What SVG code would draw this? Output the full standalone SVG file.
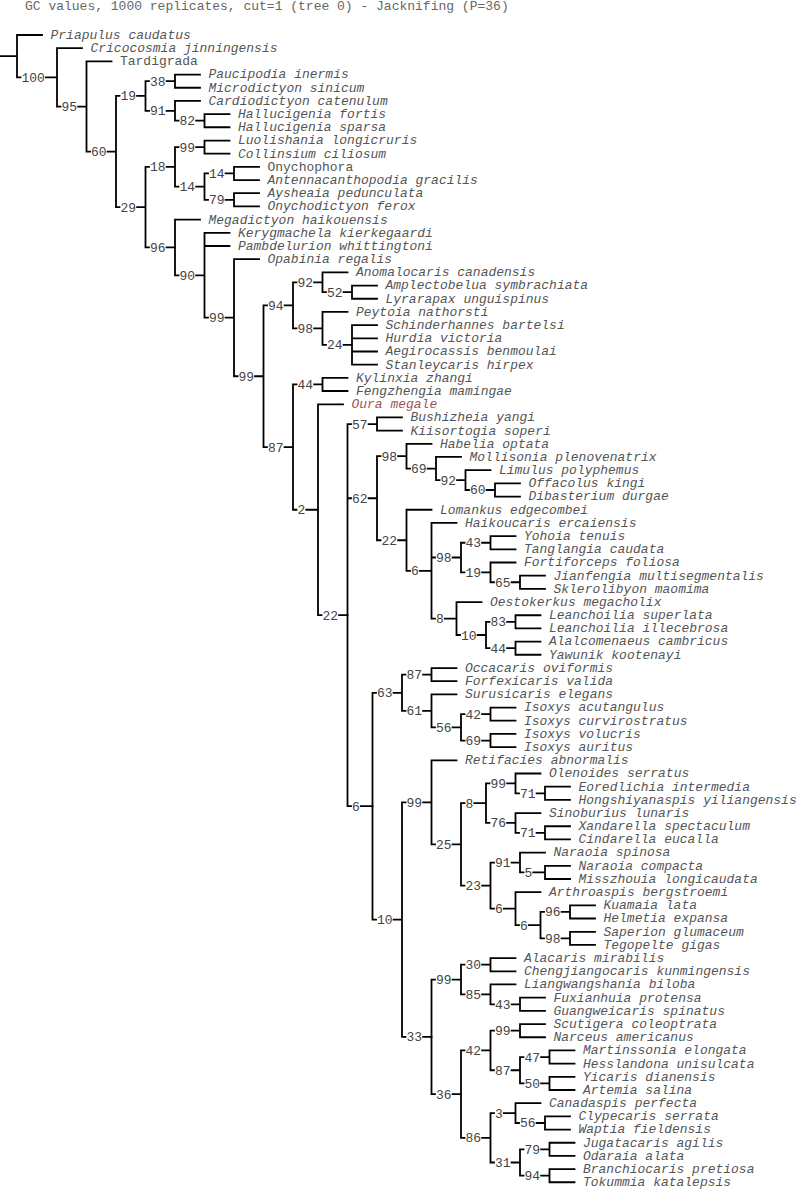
<svg xmlns="http://www.w3.org/2000/svg" width="800" height="1190" viewBox="0 0 800 1190">
<style>
.ln{stroke:#000;stroke-width:1.8;fill:none;stroke-linecap:square}
text{font-family:"Liberation Mono","DejaVu Sans Mono",monospace;font-size:13px;fill:#555}
.i{font-style:italic}
.r{fill:#a0525a}
.b{fill:#444}
.ttl{fill:#666}
</style>
<rect width="800" height="1190" fill="#fff"/>
<text class="ttl" x="25" y="9.5">GC values, 1000 replicates, cut=1 (tree 0) - Jacknifing (P=36)</text>
<g id="tree" transform="matrix(1 0 0 0.99754 0 0.0861)">
<g id="connectors" class="ln">
<path d="M0 56.2H17M17 35V77.4M17 35h25M17 77.4h3.5m25.4 0H57M57 48.2V106.7M57 48.2h25M57 106.7h3.5m17.6 0H86.5M86.5 61.4V151.9M86.5 61.4h25M86.5 151.9h3.5m17.6 0H116M116 96.1V207.6M116 96.1h3.5m17.6 0H145.5M116 207.6h3.5m17.6 0H145.5M145.5 81.3V111M145.5 81.3h3.5m17.6 0H175M145.5 111h3.5m17.6 0H175M175 74.7V87.9M175 74.7h25M175 87.9h25M175 101.1V120.9M175 101.1h25M175 120.9h3.5m17.6 0H204.5M204.5 114.3V127.5M204.5 114.3h25M204.5 127.5h25M145.5 167.2V248M145.5 167.2h3.5m17.6 0H175M145.5 248h3.5m17.6 0H175M175 147.4V187M175 147.4h3.5m17.6 0H204.5M175 187h3.5m17.6 0H204.5M204.5 140.8V154M204.5 140.8h25M204.5 154h25M204.5 173.8V200.3M204.5 173.8h3.5m17.6 0H234M204.5 200.3h3.5m17.6 0H234M234 167.2V180.4M234 167.2h25M234 180.4h25M234 193.6V206.9M234 193.6h25M234 206.9h25M175 220.1V275.9M175 220.1h25M175 275.9h3.5m17.6 0H204.5M204.5 233.3V318.4M204.5 233.3h25M204.5 246.5h25M204.5 318.4h3.5m17.6 0H234M234 259.7V377.1M234 259.7h25M234 377.1h3.5m17.6 0H263.5M263.5 306V448.1M263.5 306h3.5m17.6 0H293M263.5 448.1h3.5m17.6 0H293M293 282.9V329.2M293 282.9h3.5m17.6 0H322.5M293 329.2h3.5m17.6 0H322.5M322.5 273V292.8M322.5 273h25M322.5 292.8h3.5m17.6 0H352M352 286.2V299.4M352 286.2h25M352 299.4h25M322.5 312.6V345.7M322.5 312.6h25M322.5 345.7h3.5m17.6 0H352M352 325.8V365.5M352 325.8h25M352 339.1h25M352 352.3h25M352 365.5h25M293 385.3V510.9M293 385.3h3.5m17.6 0H322.5M293 510.9h3.5m9.8 0H318M322.5 378.7V391.9M322.5 378.7h25M322.5 391.9h25M318 405.2V616.5M318 405.2h25M318 616.5h3.5m17.6 0H347.5"/>
<path d="M347.5 425V808.1M347.5 425h3.5m17.6 0H377M347.5 499.4h3.5m17.6 0H377M347.5 808.1h3.5m9.8 0H372.5M377 418.4V431.6M377 418.4h25M377 431.6h25M377 457.2V541.5M377 457.2h3.5m17.6 0H406.5M377 541.5h3.5m17.6 0H406.5M406.5 444.8V469.6M406.5 444.8h25M406.5 469.6h3.5m17.6 0H436M436 458V481.2M436 458h25M436 481.2h3.5m17.6 0H465.5M465.5 471.3V491.1M465.5 471.3h25M465.5 491.1h3.5m17.6 0H495M495 484.5V497.7M495 484.5h25M495 497.7h25M406.5 510.9V572.1M406.5 510.9h25M406.5 572.1h3.5m9.8 0H431.5M431.5 524.1V620M431.5 524.1h25M431.5 558.8h3.5m17.6 0H461M431.5 620h3.5m9.8 0H456.5M461 544V573.7M461 544h3.5m17.6 0H490.5M461 573.7h3.5m17.6 0H490.5M490.5 537.4V550.6M490.5 537.4h25M490.5 550.6h25M490.5 563.8V583.6M490.5 563.8h25M490.5 583.6h3.5m17.6 0H520M520 577V590.2M520 577h25M520 590.2h25M456.5 603.5V636.5M456.5 603.5h25M456.5 636.5h3.5m17.6 0H486M486 623.3V649.7M486 623.3h3.5m17.6 0H515.5M486 649.7h3.5m17.6 0H515.5M515.5 616.7V629.9M515.5 616.7h25M515.5 629.9h25M515.5 643.1V656.3M515.5 643.1h25M515.5 656.3h25"/>
<path d="M372.5 694.4V921.8M372.5 694.4h3.5m17.6 0H402M372.5 921.8h3.5m17.6 0H402M402 676.2V712.5M402 676.2h3.5m17.6 0H431.5M402 712.5h3.5m17.6 0H431.5M431.5 669.6V682.8M431.5 669.6h25M431.5 682.8h25M431.5 696V729.1M431.5 696h25M431.5 729.1h3.5m17.6 0H461M461 715.8V742.3M461 715.8h3.5m17.6 0H490.5M461 742.3h3.5m17.6 0H490.5M490.5 709.2V722.4M490.5 709.2h25M490.5 722.4h25M490.5 735.7V748.9M490.5 735.7h25M490.5 748.9h25M402 804.3V1039.3M402 804.3h3.5m17.6 0H431.5M402 1039.3h3.5m17.6 0H431.5M431.5 762.1V846.4M431.5 762.1h25M431.5 846.4h3.5m17.6 0H461M461 805.1V887.7M461 805.1h3.5m9.8 0H486M461 887.7h3.5m17.6 0H490.5M486 785.2V824.9M486 785.2h3.5m17.6 0H515.5M486 824.9h3.5m17.6 0H515.5M515.5 775.3V795.2M515.5 775.3h25M515.5 795.2h3.5m17.6 0H545M545 788.5V801.8M545 788.5h25M545 801.8h25M515.5 815V834.8M515.5 815h25M515.5 834.8h3.5m17.6 0H545M545 828.2V841.4M545 828.2h25M545 841.4h25M490.5 864.6V910.8M490.5 864.6h3.5m17.6 0H520M490.5 910.8h3.5m9.8 0H515.5M520 854.6V874.5M520 854.6h25M520 874.5h3.5m9.8 0H545M545 867.9V881.1M545 867.9h25M545 881.1h25M515.5 894.3V927.4M515.5 894.3h25M515.5 927.4h3.5m9.8 0H540.5M540.5 914.1V940.6M540.5 914.1h3.5m17.6 0H570M540.5 940.6h3.5m17.6 0H570M570 907.5V920.7M570 907.5h25M570 920.7h25M570 934V947.2M570 934h25M570 947.2h25"/>
<path d="M431.5 981.9V1096.7M431.5 981.9h3.5m17.6 0H461M431.5 1096.7h3.5m17.6 0H461M461 967V996.8M461 967h3.5m17.6 0H490.5M461 996.8h3.5m17.6 0H490.5M490.5 960.4V973.6M490.5 960.4h25M490.5 973.6h25M490.5 986.8V1006.7M490.5 986.8h25M490.5 1006.7h3.5m17.6 0H520M520 1000.1V1013.3M520 1000.1h25M520 1013.3h25M461 1052.9V1140.5M461 1052.9h3.5m17.6 0H490.5M461 1140.5h3.5m17.6 0H490.5M490.5 1033.1V1072.8M490.5 1033.1h3.5m17.6 0H520M490.5 1072.8h3.5m17.6 0H520M520 1026.5V1039.7M520 1026.5h25M520 1039.7h25M520 1059.6V1086M520 1059.6h3.5m17.6 0H549.5M520 1086h3.5m17.6 0H549.5M549.5 1052.9V1066.2M549.5 1052.9h25M549.5 1066.2h25M549.5 1079.4V1092.6M549.5 1079.4h25M549.5 1092.6h25M490.5 1115.7V1165.3M490.5 1115.7h3.5m9.8 0H515.5M490.5 1165.3h3.5m17.6 0H520M515.5 1105.8V1125.7M515.5 1105.8h25M515.5 1125.7h3.5m17.6 0H545M545 1119V1132.3M545 1119h25M545 1132.3h25M520 1152.1V1178.5M520 1152.1h3.5m17.6 0H549.5M520 1178.5h3.5m17.6 0H549.5M549.5 1145.5V1158.7M549.5 1145.5h25M549.5 1158.7h25M549.5 1171.9V1185.1M549.5 1171.9h25M549.5 1185.1h25"/>
</g>
<g id="support-values">
<g id="n100"><text class="b" x="21.5" y="81.9">100</text></g>
<g id="n95"><text class="b" x="61.5" y="111.2">95</text></g>
<g id="n60"><text class="b" x="91" y="156.4">60</text></g>
<g id="n19"><text class="b" x="120.5" y="100.6">19</text></g>
<g id="n38"><text class="b" x="150" y="85.8">38</text></g>
<g id="n91"><text class="b" x="150" y="115.5">91</text></g>
<g id="n82"><text class="b" x="179.5" y="125.4">82</text></g>
<g id="n29"><text class="b" x="120.5" y="212.1">29</text></g>
<g id="n18"><text class="b" x="150" y="171.7">18</text></g>
<g id="n99a"><text class="b" x="179.5" y="151.9">99</text></g>
<g id="n14a"><text class="b" x="179.5" y="191.5">14</text></g>
<g id="n14b"><text class="b" x="209" y="178.3">14</text></g>
<g id="n79a"><text class="b" x="209" y="204.8">79</text></g>
<g id="n96a"><text class="b" x="150" y="252.5">96</text></g>
<g id="n90"><text class="b" x="179.5" y="280.4">90</text></g>
<g id="n99b"><text class="b" x="209" y="322.9">99</text></g>
<g id="n99c"><text class="b" x="238.5" y="381.6">99</text></g>
<g id="n94a"><text class="b" x="268" y="310.5">94</text></g>
<g id="n92a"><text class="b" x="297.5" y="287.4">92</text></g>
<g id="n52"><text class="b" x="327" y="297.3">52</text></g>
<g id="n98a"><text class="b" x="297.5" y="333.7">98</text></g>
<g id="n24"><text class="b" x="327" y="350.2">24</text></g>
<g id="n87a"><text class="b" x="268" y="452.6">87</text></g>
<g id="n44a"><text class="b" x="297.5" y="389.8">44</text></g>
<g id="n2"><text class="b" x="297.5" y="515.4">2</text></g>
<g id="n22a"><text class="b" x="322.5" y="621">22</text></g>
<g id="n57"><text class="b" x="352" y="429.5">57</text></g>
<g id="n62"><text class="b" x="352" y="503.9">62</text></g>
<g id="n6a"><text class="b" x="352" y="812.6">6</text></g>
<g id="n98b"><text class="b" x="381.5" y="461.7">98</text></g>
<g id="n69a"><text class="b" x="411" y="474.1">69</text></g>
<g id="n92b"><text class="b" x="440.5" y="485.7">92</text></g>
<g id="n60b"><text class="b" x="470" y="495.6">60</text></g>
<g id="n22b"><text class="b" x="381.5" y="546">22</text></g>
<g id="n6b"><text class="b" x="411" y="576.6">6</text></g>
<g id="n98c"><text class="b" x="436" y="563.3">98</text></g>
<g id="n43a"><text class="b" x="465.5" y="548.5">43</text></g>
<g id="n19b"><text class="b" x="465.5" y="578.2">19</text></g>
<g id="n65"><text class="b" x="495" y="588.1">65</text></g>
<g id="n8a"><text class="b" x="436" y="624.5">8</text></g>
<g id="n10a"><text class="b" x="461" y="641">10</text></g>
<g id="n83"><text class="b" x="490.5" y="627.8">83</text></g>
<g id="n44b"><text class="b" x="490.5" y="654.2">44</text></g>
<g id="n63"><text class="b" x="377" y="698.9">63</text></g>
<g id="n87b"><text class="b" x="406.5" y="680.7">87</text></g>
<g id="n61"><text class="b" x="406.5" y="717">61</text></g>
<g id="n56a"><text class="b" x="436" y="733.6">56</text></g>
<g id="n42a"><text class="b" x="465.5" y="720.3">42</text></g>
<g id="n69b"><text class="b" x="465.5" y="746.8">69</text></g>
<g id="n10b"><text class="b" x="377" y="926.3">10</text></g>
<g id="n99d"><text class="b" x="406.5" y="808.8">99</text></g>
<g id="n25"><text class="b" x="436" y="850.9">25</text></g>
<g id="n8b"><text class="b" x="465.5" y="809.6">8</text></g>
<g id="n99e"><text class="b" x="490.5" y="789.7">99</text></g>
<g id="n71a"><text class="b" x="520" y="799.7">71</text></g>
<g id="n76"><text class="b" x="490.5" y="829.4">76</text></g>
<g id="n71b"><text class="b" x="520" y="839.3">71</text></g>
<g id="n23"><text class="b" x="465.5" y="892.2">23</text></g>
<g id="n91b"><text class="b" x="495" y="869.1">91</text></g>
<g id="n5"><text class="b" x="524.5" y="879">5</text></g>
<g id="n6c"><text class="b" x="495" y="915.3">6</text></g>
<g id="n6d"><text class="b" x="520" y="931.9">6</text></g>
<g id="n96b"><text class="b" x="545" y="918.6">96</text></g>
<g id="n98d"><text class="b" x="545" y="945.1">98</text></g>
<g id="n33"><text class="b" x="406.5" y="1043.8">33</text></g>
<g id="n99f"><text class="b" x="436" y="986.4">99</text></g>
<g id="n30"><text class="b" x="465.5" y="971.5">30</text></g>
<g id="n85"><text class="b" x="465.5" y="1001.3">85</text></g>
<g id="n43b"><text class="b" x="495" y="1011.2">43</text></g>
<g id="n36"><text class="b" x="436" y="1101.2">36</text></g>
<g id="n42b"><text class="b" x="465.5" y="1057.4">42</text></g>
<g id="n99g"><text class="b" x="495" y="1037.6">99</text></g>
<g id="n87c"><text class="b" x="495" y="1077.3">87</text></g>
<g id="n47"><text class="b" x="524.5" y="1064.1">47</text></g>
<g id="n50"><text class="b" x="524.5" y="1090.5">50</text></g>
<g id="n86"><text class="b" x="465.5" y="1145">86</text></g>
<g id="n3"><text class="b" x="495" y="1120.2">3</text></g>
<g id="n56b"><text class="b" x="520" y="1130.2">56</text></g>
<g id="n31"><text class="b" x="495" y="1169.8">31</text></g>
<g id="n79b"><text class="b" x="524.5" y="1156.6">79</text></g>
<g id="n94b"><text class="b" x="524.5" y="1183">94</text></g>
</g>
<g id="taxa" transform="translate(0,-0.6)">
<g id="t01"><text class="i" x="50.5" y="39.5">Priapulus caudatus</text></g>
<g id="t02"><text class="i" x="90.5" y="52.7">Cricocosmia jinningensis</text></g>
<g id="t03"><text x="120" y="65.9">Tardigrada</text></g>
<g id="t04"><text class="i" x="208.5" y="79.2">Paucipodia inermis</text></g>
<g id="t05"><text class="i" x="208.5" y="92.4">Microdictyon sinicum</text></g>
<g id="t06"><text class="i" x="208.5" y="105.6">Cardiodictyon catenulum</text></g>
<g id="t07"><text class="i" x="238" y="118.8">Hallucigenia fortis</text></g>
<g id="t08"><text class="i" x="238" y="132">Hallucigenia sparsa</text></g>
<g id="t09"><text class="i" x="238" y="145.3">Luolishania longicruris</text></g>
<g id="t10"><text class="i" x="238" y="158.5">Collinsium ciliosum</text></g>
<g id="t11"><text x="267.5" y="171.7">Onychophora</text></g>
<g id="t12"><text class="i" x="267.5" y="184.9">Antennacanthopodia gracilis</text></g>
<g id="t13"><text class="i" x="267.5" y="198.1">Aysheaia pedunculata</text></g>
<g id="t14"><text class="i" x="267.5" y="211.4">Onychodictyon ferox</text></g>
<g id="t15"><text class="i" x="208.5" y="224.6">Megadictyon haikouensis</text></g>
<g id="t16"><text class="i" x="238" y="237.8">Kerygmachela kierkegaardi</text></g>
<g id="t17"><text class="i" x="238" y="251">Pambdelurion whittingtoni</text></g>
<g id="t18"><text class="i" x="267.5" y="264.2">Opabinia regalis</text></g>
<g id="t19"><text class="i" x="356" y="277.5">Anomalocaris canadensis</text></g>
<g id="t20"><text class="i" x="385.5" y="290.7">Amplectobelua symbrachiata</text></g>
<g id="t21"><text class="i" x="385.5" y="303.9">Lyrarapax unguispinus</text></g>
<g id="t22"><text class="i" x="356" y="317.1">Peytoia nathorsti</text></g>
<g id="t23"><text class="i" x="385.5" y="330.3">Schinderhannes bartelsi</text></g>
<g id="t24"><text class="i" x="385.5" y="343.6">Hurdia victoria</text></g>
<g id="t25"><text class="i" x="385.5" y="356.8">Aegirocassis benmoulai</text></g>
<g id="t26"><text class="i" x="385.5" y="370">Stanleycaris hirpex</text></g>
<g id="t27"><text class="i" x="356" y="383.2">Kylinxia zhangi</text></g>
<g id="t28"><text class="i" x="356" y="396.4">Fengzhengia mamingae</text></g>
<g id="t29"><text class="i r" x="351.5" y="409.7">Oura megale</text></g>
<g id="t30"><text class="i" x="410.5" y="422.9">Bushizheia yangi</text></g>
<g id="t31"><text class="i" x="410.5" y="436.1">Kiisortogia soperi</text></g>
<g id="t32"><text class="i" x="440" y="449.3">Habelia optata</text></g>
<g id="t33"><text class="i" x="469.5" y="462.5">Mollisonia plenovenatrix</text></g>
<g id="t34"><text class="i" x="499" y="475.8">Limulus polyphemus</text></g>
<g id="t35"><text class="i" x="528.5" y="489">Offacolus kingi</text></g>
<g id="t36"><text class="i" x="528.5" y="502.2">Dibasterium durgae</text></g>
<g id="t37"><text class="i" x="440" y="515.4">Lomankus edgecombei</text></g>
<g id="t38"><text class="i" x="465" y="528.6">Haikoucaris ercaiensis</text></g>
<g id="t39"><text class="i" x="524" y="541.9">Yohoia tenuis</text></g>
<g id="t40"><text class="i" x="524" y="555.1">Tanglangia caudata</text></g>
<g id="t41"><text class="i" x="524" y="568.3">Fortiforceps foliosa</text></g>
<g id="t42"><text class="i" x="553.5" y="581.5">Jianfengia multisegmentalis</text></g>
<g id="t43"><text class="i" x="553.5" y="594.7">Sklerolibyon maomima</text></g>
<g id="t44"><text class="i" x="490" y="608">Oestokerkus megacholix</text></g>
<g id="t45"><text class="i" x="549" y="621.2">Leanchoilia superlata</text></g>
<g id="t46"><text class="i" x="549" y="634.4">Leanchoilia illecebrosa</text></g>
<g id="t47"><text class="i" x="549" y="647.6">Alalcomenaeus cambricus</text></g>
<g id="t48"><text class="i" x="549" y="660.8">Yawunik kootenayi</text></g>
<g id="t49"><text class="i" x="465" y="674.1">Occacaris oviformis</text></g>
<g id="t50"><text class="i" x="465" y="687.3">Forfexicaris valida</text></g>
<g id="t51"><text class="i" x="465" y="700.5">Surusicaris elegans</text></g>
<g id="t52"><text class="i" x="524" y="713.7">Isoxys acutangulus</text></g>
<g id="t53"><text class="i" x="524" y="726.9">Isoxys curvirostratus</text></g>
<g id="t54"><text class="i" x="524" y="740.2">Isoxys volucris</text></g>
<g id="t55"><text class="i" x="524" y="753.4">Isoxys auritus</text></g>
<g id="t56"><text class="i" x="465" y="766.6">Retifacies abnormalis</text></g>
<g id="t57"><text class="i" x="549" y="779.8">Olenoides serratus</text></g>
<g id="t58"><text class="i" x="578.5" y="793">Eoredlichia intermedia</text></g>
<g id="t59"><text class="i" x="578.5" y="806.3">Hongshiyanaspis yiliangensis</text></g>
<g id="t60"><text class="i" x="549" y="819.5">Sinoburius lunaris</text></g>
<g id="t61"><text class="i" x="578.5" y="832.7">Xandarella spectaculum</text></g>
<g id="t62"><text class="i" x="578.5" y="845.9">Cindarella eucalla</text></g>
<g id="t63"><text class="i" x="553.5" y="859.1">Naraoia spinosa</text></g>
<g id="t64"><text class="i" x="578.5" y="872.4">Naraoia compacta</text></g>
<g id="t65"><text class="i" x="578.5" y="885.6">Misszhouia longicaudata</text></g>
<g id="t66"><text class="i" x="549" y="898.8">Arthroaspis bergstroemi</text></g>
<g id="t67"><text class="i" x="603.5" y="912">Kuamaia lata</text></g>
<g id="t68"><text class="i" x="603.5" y="925.2">Helmetia expansa</text></g>
<g id="t69"><text class="i" x="603.5" y="938.5">Saperion glumaceum</text></g>
<g id="t70"><text class="i" x="603.5" y="951.7">Tegopelte gigas</text></g>
<g id="t71"><text class="i" x="524" y="964.9">Alacaris mirabilis</text></g>
<g id="t72"><text class="i" x="524" y="978.1">Chengjiangocaris kunmingensis</text></g>
<g id="t73"><text class="i" x="524" y="991.3">Liangwangshania biloba</text></g>
<g id="t74"><text class="i" x="553.5" y="1004.6">Fuxianhuia protensa</text></g>
<g id="t75"><text class="i" x="553.5" y="1017.8">Guangweicaris spinatus</text></g>
<g id="t76"><text class="i" x="553.5" y="1031">Scutigera coleoptrata</text></g>
<g id="t77"><text class="i" x="553.5" y="1044.2">Narceus americanus</text></g>
<g id="t78"><text class="i" x="583" y="1057.4">Martinssonia elongata</text></g>
<g id="t79"><text class="i" x="583" y="1070.7">Hesslandona unisulcata</text></g>
<g id="t80"><text class="i" x="583" y="1083.9">Yicaris dianensis</text></g>
<g id="t81"><text class="i" x="583" y="1097.1">Artemia salina</text></g>
<g id="t82"><text class="i" x="549" y="1110.3">Canadaspis perfecta</text></g>
<g id="t83"><text class="i" x="578.5" y="1123.5">Clypecaris serrata</text></g>
<g id="t84"><text class="i" x="578.5" y="1136.8">Waptia fieldensis</text></g>
<g id="t85"><text class="i" x="583" y="1150">Jugatacaris agilis</text></g>
<g id="t86"><text class="i" x="583" y="1163.2">Odaraia alata</text></g>
<g id="t87"><text class="i" x="583" y="1176.4">Branchiocaris pretiosa</text></g>
<g id="t88"><text class="i" x="583" y="1189.6">Tokummia katalepsis</text></g>
</g>
</g>
</svg>
